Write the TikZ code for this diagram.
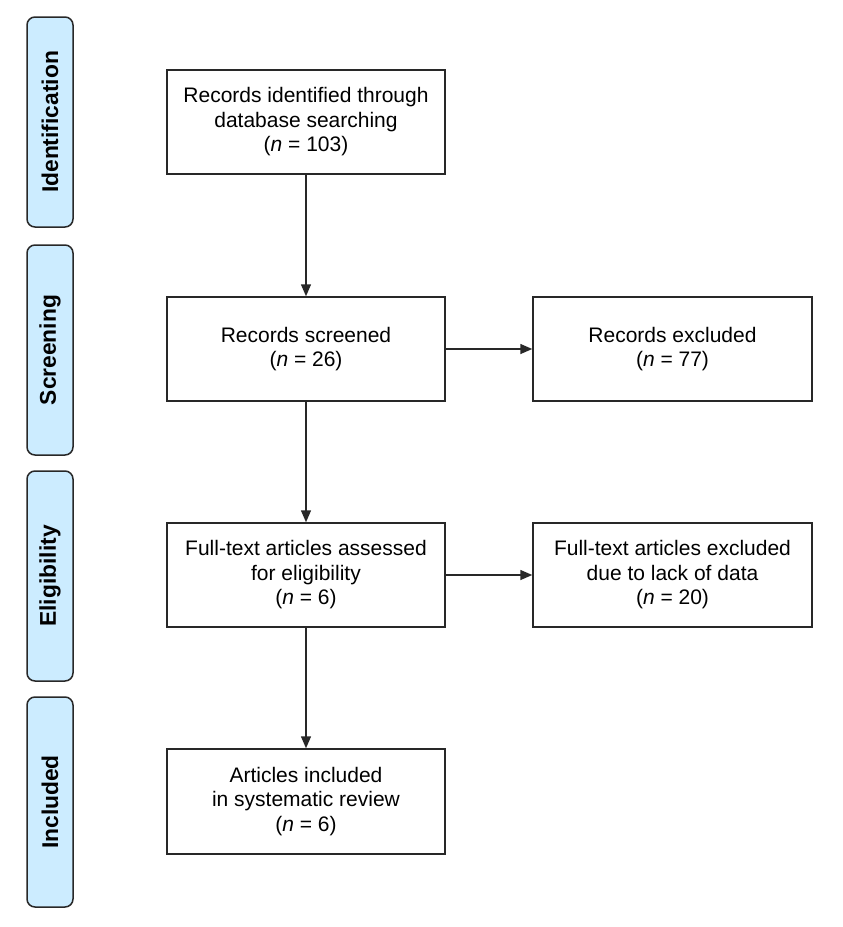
\documentclass[tikz,border=0pt]{standalone}
\usepackage{fontspec}
\setmainfont{Liberation Sans}
\usetikzlibrary{arrows.meta}
\definecolor{stagefill}{RGB}{204,236,255}
\definecolor{edge}{RGB}{40,40,40}
\begin{document}
\begin{tikzpicture}[x=1pt,y=-1pt,
  stage/.style={draw=edge, line width=1.5pt, fill=stagefill, rounded corners=8pt,
    minimum width=46pt, minimum height=210pt, inner sep=0pt, anchor=center},
  stagetext/.style={rotate=90, font=\fontsize{22.8}{26}\selectfont\bfseries},
  flowbox/.style={draw=edge, line width=1.5pt, fill=white, minimum width=278pt,
    minimum height=104pt, align=center, inner sep=0pt,
    font=\fontsize{21}{24.5}\selectfont},
  conn/.style={draw=edge, line width=1.5pt, -{Triangle[length=12pt,width=10pt]}}]
\useasboundingbox[fill=white] (0,0) rectangle (843,927);
% stage labels
\node[stage] (sid) at (50,122) {};
\node[stagetext] (tid) at (sid.center) {Identification};
\node[stage] (ssc) at (50,350) {};
\node[stagetext] (tsc) at (ssc.center) {Screening};
\node[stage] (sel) at (50,576) {};
\node[stagetext] (tel) at (sel.center) {Eligibility};
\node[stage] (sin) at (50,802) {};
\node[stagetext] (tin) at (sin.center) {Included};
% boxes
\node[flowbox] (b1) at (306,122) {Records identified through\\database searching\\(\textit{n} = 103)};
\node[flowbox] (b2) at (306,349) {Records screened\\(\textit{n} = 26)};
\node[flowbox, minimum width=279pt] (r2) at (672.5,349) {Records excluded\\(\textit{n} = 77)};
\node[flowbox] (b3) at (306,575) {Full-text articles assessed\\for eligibility\\(\textit{n} = 6)};
\node[flowbox, minimum width=279pt] (r3) at (672.5,575) {Full-text articles excluded\\due to lack of data\\(\textit{n} = 20)};
\node[flowbox, minimum height=105pt] (b4) at (306,801.5) {Articles included\\in systematic review\\(\textit{n} = 6)};
% connectors
\draw[conn] (b1) -- (b2);
\draw[conn] (b2) -- (b3);
\draw[conn] (b3) -- (b4);
\draw[conn] (b2) -- (r2);
\draw[conn] (b3) -- (r3);
\end{tikzpicture}
\end{document}
